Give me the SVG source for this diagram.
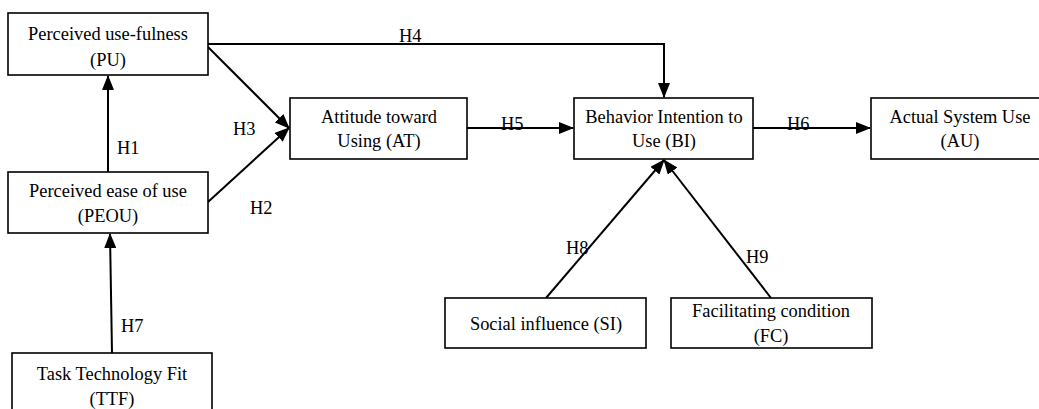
<svg xmlns="http://www.w3.org/2000/svg" width="1039" height="409" viewBox="0 0 1039 409">
<style>
.box{fill:#fff;stroke:#000;stroke-width:1.6}
.t{font-family:"Liberation Serif","Times New Roman",serif;font-size:18.4px;fill:#000;text-anchor:middle}
.lbl{font-family:"Liberation Serif","Times New Roman",serif;font-size:18.4px;fill:#000}
.c{fill:none;stroke:#000;stroke-width:2;marker-end:url(#ah)}
</style>
<defs>
<marker id="ah" markerUnits="userSpaceOnUse" markerWidth="16" markerHeight="12" refX="14" refY="6" orient="auto" viewBox="0 0 16 12">
<path d="M0,0 L15,6 L0,12 z" fill="#000"/>
</marker>
</defs>
<rect width="1039" height="409" fill="#fff"/>
<g id="connectors">
<path class="c" d="M108,172 L108,76"/>
<path class="c" d="M208,202 L289,128"/>
<path class="c" d="M208,47 L289,128"/>
<path class="c" d="M208,44 L664,44 L664,97"/>
<path class="c" d="M467,128 L573,128"/>
<path class="c" d="M753,128 L870,128"/>
<path class="c" d="M112,353 L110,234"/>
<path class="c" d="M546,298 L664,160"/>
<path class="c" d="M771,298 L664,160"/>
<text class="lbl" x="117" y="154">H1</text>
<text class="lbl" x="250" y="214">H2</text>
<text class="lbl" x="233" y="135">H3</text>
<text class="lbl" x="399" y="42">H4</text>
<text class="lbl" x="501" y="130">H5</text>
<text class="lbl" x="787" y="130">H6</text>
<text class="lbl" x="121" y="332">H7</text>
<text class="lbl" x="566" y="254">H8</text>
<text class="lbl" x="746" y="263">H9</text>
</g>
<g id="PU">
<rect class="box" x="8" y="13" width="200" height="62"/>
<text class="t" x="108" y="40">Perceived use-fulness</text>
<text class="t" x="108" y="66">(PU)</text>
</g>
<g id="PEOU">
<rect class="box" x="8" y="172" width="200" height="61"/>
<text class="t" x="108" y="197">Perceived ease of use</text>
<text class="t" x="108" y="222">(PEOU)</text>
</g>
<g id="TTF">
<rect class="box" x="12" y="353" width="200" height="70"/>
<text class="t" x="112" y="380">Task Technology Fit</text>
<text class="t" x="112" y="405">(TTF)</text>
</g>
<g id="AT">
<rect class="box" x="290" y="98" width="177" height="61"/>
<text class="t" x="379" y="123">Attitude toward</text>
<text class="t" x="379" y="147">Using (AT)</text>
</g>
<g id="BI">
<rect class="box" x="574" y="98" width="179" height="61"/>
<text class="t" x="664" y="123">Behavior Intention to</text>
<text class="t" x="664" y="147">Use (BI)</text>
</g>
<g id="AU">
<rect class="box" x="871" y="98" width="178" height="61"/>
<text class="t" x="960" y="123">Actual System Use</text>
<text class="t" x="960" y="147">(AU)</text>
</g>
<g id="SI">
<rect class="box" x="445" y="298" width="201" height="50"/>
<text class="t" x="546" y="330">Social influence (SI)</text>
</g>
<g id="FC">
<rect class="box" x="671" y="298" width="201" height="50"/>
<text class="t" x="771" y="317">Facilitating condition</text>
<text class="t" x="771" y="342">(FC)</text>
</g>
</svg>
